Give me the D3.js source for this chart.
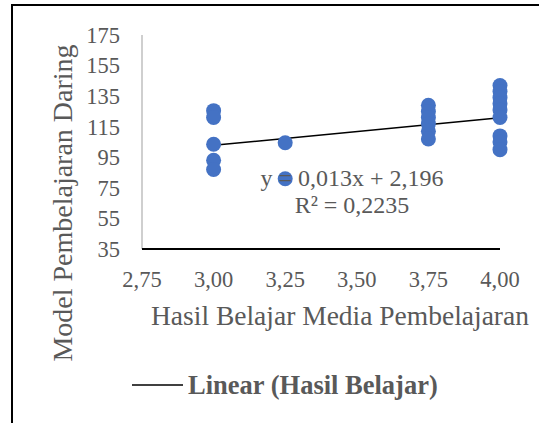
<!DOCTYPE html>
<html>
<head>
<meta charset="utf-8">
<script src="https://cdn.jsdelivr.net/npm/d3@7"></script>
<style>
  body { margin: 0; background: #fff; }
  text { font-family: "Liberation Serif", "Times New Roman", serif; }
</style>
</head>
<body>
<div id="chart"></div>
<script>
// values
var hasilBelajar = [3.00, 3.00, 3.00, 3.00, 3.00,
                    3.25, 3.25,
                    3.75, 3.75, 3.75, 3.75, 3.75, 3.75,
                    4.00, 4.00, 4.00, 4.00, 4.00, 4.00, 4.00, 4.00, 4.00];
var modelDaring = [125.5, 121, 103.5, 93, 87,
                   104.5, 81,
                   129, 125, 121, 117, 112, 107,
                   142, 138, 134, 130, 126, 121, 109, 105, 100];
var xTicks = [2.75, 3.00, 3.25, 3.50, 3.75, 4.00];
var yTicks = [35, 55, 75, 95, 115, 135, 155, 175];
// trend line as drawn (start / end)
var trendX = [3.00, 4.00];
var trendY = [102.8, 120.9];
var equationText = ["y = 0,013x + 2,196", "R\u00b2 = 0,2235"];
var legendLabel = "Linear (Hasil Belajar)";
var xTitle = "Hasil Belajar Media Pembelajaran";
var yTitle = "Model Pembelajaran Daring";

var width = 539, height = 423;
var grey = "#595959";

var svg = d3.select("#chart").append("svg")
    .attr("width", width)
    .attr("height", height);

// chart border
svg.append("rect")
    .attr("x", 12).attr("y", 5)
    .attr("width", 600).attr("height", 500)
    .attr("fill", "none")
    .attr("stroke", "#000")
    .attr("stroke-width", 2);

var x = d3.scaleLinear().domain([2.75, 4.00]).range([142, 500]);
var y = d3.scaleLinear().domain([35, 175]).range([249, 35]);

// y axis line
svg.append("line")
    .attr("x1", x(2.75)).attr("x2", x(2.75))
    .attr("y1", y(175)).attr("y2", y(35))
    .attr("stroke", "#bfbfbf").attr("stroke-width", 1.5);

// y tick labels
svg.selectAll(".ytick").data(yTicks).enter().append("text")
    .attr("class", "ytick")
    .attr("x", 120)
    .attr("y", function(d) { return y(d); })
    .attr("dy", "0.35em")
    .attr("text-anchor", "end")
    .attr("font-size", 22.5)
    .attr("fill", grey)
    .text(function(d) { return d; });

// x tick labels
svg.selectAll(".xtick").data(xTicks).enter().append("text")
    .attr("class", "xtick")
    .attr("x", function(d) { return x(d); })
    .attr("y", 287)
    .attr("text-anchor", "middle")
    .attr("font-size", 22.5)
    .attr("fill", grey)
    .text(function(d) { return d3.format(".2f")(d).replace(".", ","); });

// trend line
svg.append("line")
    .attr("x1", x(trendX[0])).attr("y1", y(trendY[0]))
    .attr("x2", x(trendX[1])).attr("y2", y(trendY[1]))
    .attr("stroke", "#000").attr("stroke-width", 1.5);

// points
svg.selectAll("circle").data(modelDaring).enter().append("circle")
    .attr("cx", function(d, i) { return x(hasilBelajar[i]); })
    .attr("cy", function(d) { return y(d); })
    .attr("r", 7.5)
    .attr("fill", "#4472c4");

// x axis line (drawn on top)
svg.append("line")
    .attr("x1", x(2.75)).attr("x2", x(4.00))
    .attr("y1", y(35)).attr("y2", y(35))
    .attr("stroke", "#000").attr("stroke-width", 2);

// equation label
svg.selectAll(".eq").data(equationText).enter().append("text")
    .attr("class", "eq")
    .attr("x", 352)
    .attr("y", function(d, i) { return 186 + i * 27; })
    .attr("text-anchor", "middle")
    .attr("font-size", 24)
    .attr("fill", grey)
    .text(function(d) { return d; });

// axis titles
svg.append("text")
    .attr("x", 340).attr("y", 325)
    .attr("text-anchor", "middle")
    .attr("font-size", 27.5)
    .attr("fill", grey)
    .text(xTitle);

svg.append("text")
    .attr("transform", "translate(72,203) rotate(-90)")
    .attr("text-anchor", "middle")
    .attr("font-size", 28)
    .attr("fill", grey)
    .text(yTitle);

// legend
svg.append("line")
    .attr("x1", 132).attr("x2", 183)
    .attr("y1", 385).attr("y2", 385)
    .attr("stroke", "#000").attr("stroke-width", 1.5);
svg.append("text")
    .attr("x", 188).attr("y", 394)
    .attr("font-size", 26.5)
    .attr("font-weight", "bold")
    .attr("fill", grey)
    .text(legendLabel);
</script>
</body>
</html>
